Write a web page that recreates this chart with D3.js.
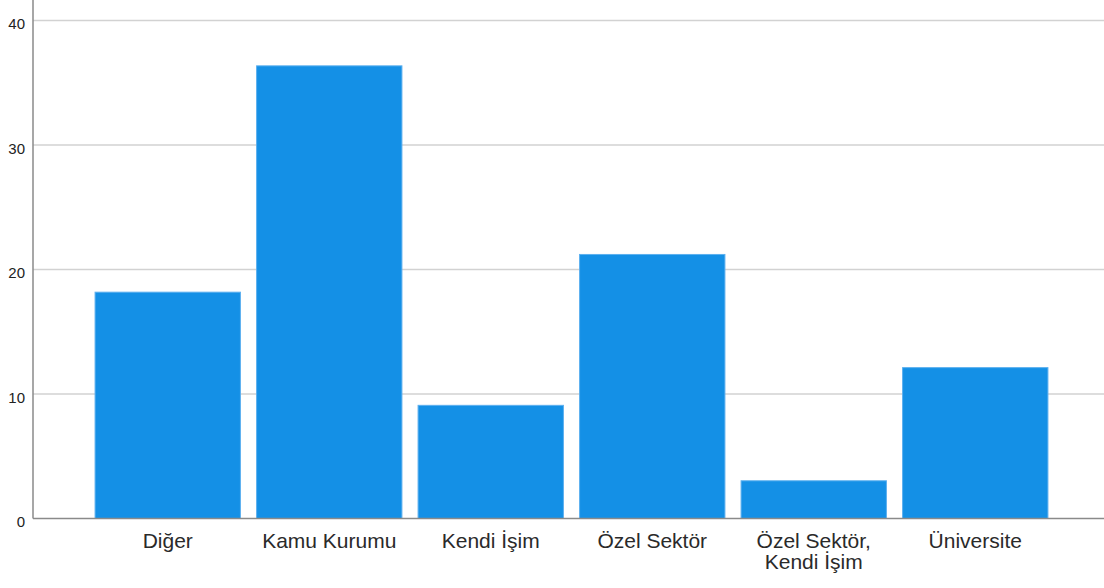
<!DOCTYPE html>
<html><head><meta charset="utf-8">
<script src="https://cdn.jsdelivr.net/npm/d3@7"></script>
<style>body{margin:0;background:#fff}svg{display:block}</style>
</head><body>
<svg id="chart" width="1104" height="588"></svg>
<script>
const categories = ["Diğer", "Kamu Kurumu", "Kendi İşim", "Özel Sektör", "Özel Sektör,\nKendi İşim", "Üniversite"];
const values = [18.18, 36.36, 9.09, 21.21, 3.03, 12.12];
const yTicks = [0, 10, 20, 30, 40];

const svg = d3.select("#chart");
const W = 1104, H = 588;
const x0 = 33, yBase = 518.5;
const x = d3.scaleBand().domain(categories).range([87, 1056]).paddingInner(0.1).paddingOuter(0.05);
const y = d3.scaleLinear().domain([0, 41.65]).range([yBase, 0]);

// gridlines
svg.append("g").selectAll("line").data(yTicks.filter(d => d > 0)).join("line")
  .attr("x1", x0).attr("x2", W).attr("y1", d => y(d)).attr("y2", d => y(d))
  .attr("stroke", "#d2d2d2").attr("stroke-width", 1.5);

// bars
svg.append("g").selectAll("rect").data(values).join("rect")
  .attr("x", (d, i) => x(categories[i]))
  .attr("width", x.bandwidth())
  .attr("y", d => y(d))
  .attr("height", d => yBase - y(d))
  .attr("fill", "#1490e6")
  .attr("stroke", "#5cb0ef").attr("stroke-width", 1);

// y axis
const yAxis = d3.axisLeft(y).tickValues(yTicks).tickSize(0).tickPadding(8);
const gy = svg.append("g").attr("transform", `translate(${x0},0)`).call(yAxis);
gy.select(".domain").remove();
gy.selectAll("text").attr("font-family", "Liberation Sans, Arial, sans-serif")
  .attr("font-size", 15).attr("fill", "#222").attr("dy", "0.55em");
svg.append("line").attr("x1", x0).attr("x2", x0).attr("y1", 0).attr("y2", yBase)
  .attr("stroke", "#8a8a8a").attr("stroke-width", 1.5);

// x axis
const xAxis = d3.axisBottom(x).tickSize(0).tickPadding(0);
const gx = svg.append("g").attr("transform", `translate(0,${yBase})`).call(xAxis);
gx.select(".domain").remove();
gx.selectAll("text").each(function(d) {
  const t = d3.select(this).text("").attr("y", 29).attr("dy", null)
    .attr("font-family", "Liberation Sans, Arial, sans-serif")
    .attr("font-size", 21).attr("fill", "#2a2a2a");
  d.split("\n").forEach((line, i) => {
    t.append("tspan").attr("x", 0).attr("y", 29 + i * 21).text(line);
  });
});
svg.append("line").attr("x1", x0).attr("x2", W).attr("y1", yBase).attr("y2", yBase)
  .attr("stroke", "#8a8a8a").attr("stroke-width", 1.5);
</script>
</body></html>
